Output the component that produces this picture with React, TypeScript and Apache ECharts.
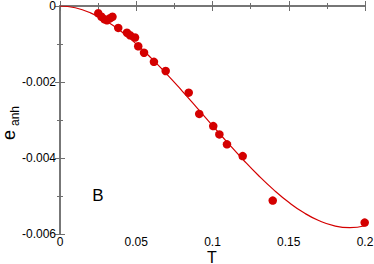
import React, { useEffect, useRef } from "react";
import * as echarts from "echarts";

const pointsT = [0.0251, 0.0272, 0.0292, 0.0308, 0.0328, 0.0344, 0.0382, 0.0439, 0.0459, 0.0492, 0.0513, 0.0551, 0.0616, 0.0693, 0.0844, 0.0913, 0.1005, 0.1045, 0.1095, 0.1198, 0.1395, 0.1998];
const pointsE = [-0.000192, -0.000283, -0.000349, -0.000375, -0.000323, -0.000283, -0.000577, -0.000703, -0.000769, -0.00083, -0.00106, -0.00123, -0.00147, -0.00171, -0.00228, -0.00284, -0.00316, -0.00338, -0.00364, -0.00395, -0.00512, -0.0057];

const curveT = [0, 0.01, 0.02, 0.03, 0.04, 0.05, 0.06, 0.07, 0.08, 0.09, 0.1, 0.11, 0.12, 0.13, 0.14, 0.15, 0.16, 0.17, 0.18, 0.19, 0.2];
const curveE = [0, -0.0000468, -0.00018, -0.00039, -0.000666, -0.000999, -0.001378, -0.001792, -0.002231, -0.002686, -0.003146, -0.003601, -0.00404, -0.004455, -0.004833, -0.005166, -0.005443, -0.005653, -0.005787, -0.005834, -0.005784];

const RED = "#d40000";
const AXIS = "#6e6e6e";
const FONT = "Liberation Sans";

export default function App() {
  const ref = useRef<HTMLDivElement>(null);
  useEffect(() => {
    if (!ref.current) return;
    const chart = echarts.init(ref.current, undefined, { renderer: "svg" });
    const axisLine = { show: true, lineStyle: { color: AXIS, width: 1.5 } };
    const axisTick = { show: true, inside: true, length: 5, lineStyle: { color: AXIS, width: 1 } };
    const minorTick = { show: true, splitNumber: 2, length: 3, lineStyle: { color: AXIS, width: 1 } };
    chart.setOption({
      animation: false,
      backgroundColor: "#ffffff",
      grid: { left: 60, right: 9, top: 6, bottom: 30, containLabel: false, outerBoundsMode: "none" },
      xAxis: [
        {
          type: "value", min: 0, max: 0.2, interval: 0.05, position: "bottom",
          axisLine, axisTick, minorTick,
          splitLine: { show: false },
          axisLabel: { color: "#000", fontFamily: FONT, fontSize: 12, lineHeight: 12, margin: 2 },
        },
        {
          type: "value", min: 0, max: 0.2, interval: 0.05, position: "top",
          axisLine, axisTick, minorTick,
          splitLine: { show: false }, axisLabel: { show: false },
        },
      ],
      yAxis: [
        {
          type: "value", min: -0.006, max: 0, interval: 0.002, position: "left",
          axisLine, axisTick, minorTick,
          splitLine: { show: false },
          axisLabel: { color: "#000", fontFamily: FONT, fontSize: 12, margin: 4 },
        },
        {
          type: "value", min: -0.006, max: 0, interval: 0.002, position: "right",
          axisLine, axisTick, minorTick,
          splitLine: { show: false }, axisLabel: { show: false },
        },
      ],
      series: [
        {
          type: "line",
          data: curveT.map((t, i) => [t, curveE[i]]),
          smooth: true,
          showSymbol: false,
          lineStyle: { color: RED, width: 1.2 },
          z: 2,
        },
        {
          type: "scatter",
          data: pointsT.map((t, i) => [t, pointsE[i]]),
          symbol: "circle",
          symbolSize: 8.5,
          itemStyle: { color: RED, opacity: 1 },
          z: 3,
        },
      ],
      graphic: [
        {
          type: "text", x: 98, y: 195,
          style: { text: "B", font: `17px "${FONT}"`, fill: "#000", align: "center", verticalAlign: "middle" },
        },
        {
          type: "text", x: 212, y: 263.5,
          style: { text: "T", font: `16px "${FONT}"`, lineHeight: 13, fill: "#000", align: "center", verticalAlign: "bottom" },
        },
        {
          type: "text", x: 18, y: 140, rotation: Math.PI / 2,
          style: { text: "e", font: `18px "${FONT}"`, fill: "#000", align: "left", verticalAlign: "bottom" },
        },
        {
          type: "text", x: 20.5, y: 126, rotation: Math.PI / 2,
          style: { text: "anh", font: `12px "${FONT}"`, fill: "#000", align: "left", verticalAlign: "bottom" },
        },
      ],
    });
    return () => chart.dispose();
  }, []);
  return <div ref={ref} style={{ position: "fixed", left: 0, top: 0, width: 374, height: 264 }} />;
}
